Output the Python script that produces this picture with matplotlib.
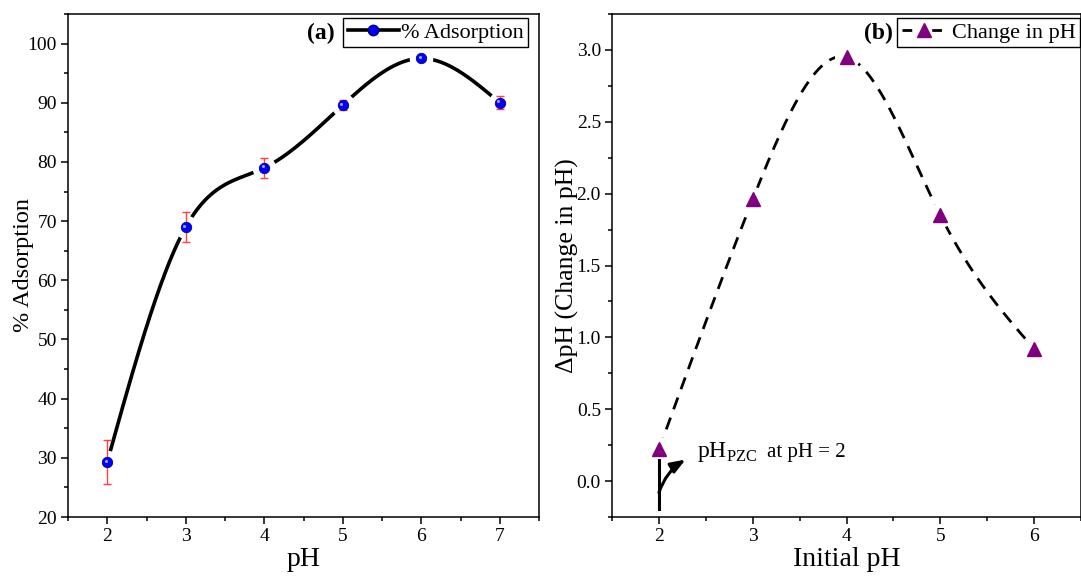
import numpy as np
import matplotlib
matplotlib.use('agg')
from matplotlib import pyplot as plt
from matplotlib.lines import Line2D
from matplotlib.ticker import MultipleLocator
from matplotlib.transforms import offset_copy

# panel (a): % adsorption vs pH
ph_a = [2, 3, 4, 5, 6, 7]
adsorption = [29.3, 69.0, 79.0, 89.6, 97.5, 90.0]
adsorption_err = [3.7, 2.6, 1.7, 0.8, 0.4, 1.1]

# panel (b): change in pH vs initial pH
ph_b = [2, 3, 4, 5, 6]
delta_ph = [0.22, 1.96, 2.95, 1.85, 0.92]

plt.rcParams['font.family'] = ['Liberation Serif', 'DejaVu Serif']
plt.rcParams['mathtext.fontset'] = 'custom'
plt.rcParams['mathtext.rm'] = 'Liberation Serif'
plt.rcParams['axes.linewidth'] = 1.1


def natural_spline(x, y, n=400):
    # smooth connecting curve through the data points
    x = np.asarray(x, float)
    y = np.asarray(y, float)
    k = len(x)
    h = np.diff(x)
    A = np.zeros((k, k))
    r = np.zeros(k)
    A[0, 0] = A[-1, -1] = 1
    for i in range(1, k - 1):
        A[i, i - 1] = h[i - 1]
        A[i, i] = 2 * (h[i - 1] + h[i])
        A[i, i + 1] = h[i]
        r[i] = 6 * ((y[i + 1] - y[i]) / h[i] - (y[i] - y[i - 1]) / h[i - 1])
    M = np.linalg.solve(A, r)
    xs = np.linspace(x[0], x[-1], n)
    idx = np.clip(np.searchsorted(x, xs) - 1, 0, k - 2)
    hh = h[idx]
    a = (x[idx + 1] - xs) / hh
    b = (xs - x[idx]) / hh
    ys = a * y[idx] + b * y[idx + 1] + ((a**3 - a) * M[idx] + (b**3 - b) * M[idx + 1]) * hh**2 / 6
    return xs, ys


def style_axes(ax):
    ax.tick_params(which='both', direction='out', width=1.1, labelsize=14, pad=3)
    ax.tick_params(which='major', length=5)
    ax.tick_params(which='minor', length=3)
    ax.xaxis.set_major_locator(MultipleLocator(1))
    ax.xaxis.set_minor_locator(MultipleLocator(0.5))


fig = plt.figure(figsize=(10.81, 5.77), dpi=100)
W, H = 1081.0, 577.0

# ---------------- panel (a) ----------------
ax1 = fig.add_axes([68 / W, 60 / H, 471 / W, 503 / H])
xs, ys = natural_spline(ph_a, adsorption)
ax1.plot(xs, ys, color='k', lw=2.6, zorder=2)
# white halo to leave a gap round each marker
ax1.plot(ph_a, adsorption, 'o', color='white', ms=17, mec='none', zorder=3)
ax1.errorbar(ph_a, adsorption, yerr=adsorption_err, fmt='none',
             ecolor='#ff4040', elinewidth=1.0, capsize=3, capthick=1.0, zorder=4)
ax1.plot(ph_a, adsorption, 'o', mfc='#0000ff', mec='#00008b', mew=0.6, ms=7.5, zorder=5)
hl = offset_copy(ax1.transData, fig=fig, x=-1.0, y=1.0, units='points')
ax1.plot(ph_a, adsorption, 'o', color='#9fa8ff', mec='none', ms=2.2, transform=hl, zorder=6)

ax1.set_xlim(1.5, 7.5)
ax1.set_ylim(20, 105)
style_axes(ax1)
ax1.yaxis.set_major_locator(MultipleLocator(10))
ax1.yaxis.set_minor_locator(MultipleLocator(5))
ax1.set_xlabel('pH', fontsize=20, labelpad=1)
ax1.set_ylabel('% Adsorption', fontsize=17.5, labelpad=-5)

proxy_a = Line2D([], [], color='k', lw=2.6, marker='o', mfc='#0000ff',
                 mec='#00008b', ms=7.5)
leg = ax1.legend(handles=[proxy_a], labels=['% Adsorption'], loc='upper right',
                 bbox_to_anchor=(0.977, 0.992), borderaxespad=0, fontsize=16,
                 handlelength=2.3, handletextpad=0.1, borderpad=0.2,
                 fancybox=False, framealpha=1, edgecolor='k')
leg.get_frame().set_linewidth(1.0)
ax1.text(0.567, 0.962, '(a)', transform=ax1.transAxes, ha='right', va='center',
         fontsize=17, fontweight='bold')

# ---------------- panel (b) ----------------
ax2 = fig.add_axes([612 / W, 60 / H, 469 / W, 503 / H])
xs, ys = natural_spline(ph_b, delta_ph)
ax2.plot(xs, ys, color='k', lw=2.0, dashes=(4.5, 3.2), zorder=2)
ax2.plot(ph_b, delta_ph, 'o', color='white', ms=18, mec='none', zorder=3)
ax2.plot(ph_b, delta_ph, '^', color='#800080', ms=10, mec='#800080', zorder=5)

ax2.plot([2, 2], [-0.195, 0.15], color='k', lw=2.2, zorder=6)
ax2.annotate('', xy=(2.285, 0.15), xytext=(2.0, -0.08),
             arrowprops=dict(arrowstyle='-|>,head_length=0.8,head_width=0.3',
                             connectionstyle='arc3,rad=-0.18',
                             lw=2.2, color='k', mutation_scale=11,
                             shrinkA=0, shrinkB=0), zorder=6)
ax2.text(2.41, 0.17, r'pH$_{\mathrm{PZC}}$', fontsize=17, va='baseline', ha='left')
ax2.text(3.15, 0.17, 'at pH = 2', fontsize=15, va='baseline', ha='left')

ax2.set_xlim(1.5, 6.5)
ax2.set_ylim(-0.25, 3.25)
style_axes(ax2)
ax2.yaxis.set_major_locator(MultipleLocator(0.5))
ax2.yaxis.set_minor_locator(MultipleLocator(0.25))
ax2.set_xlabel('Initial pH', fontsize=20, labelpad=1)
ax2.set_ylabel('ΔpH (Change in pH)', fontsize=18.5, labelpad=-1.5)

proxy_b = Line2D([], [], color='k', lw=2.0, dashes=(3.5, 7.2), marker='^',
                 mfc='#800080', mec='#800080', ms=10)
leg = ax2.legend(handles=[proxy_b], labels=['Change in pH'], loc='upper right',
                 bbox_to_anchor=(0.998, 0.992), borderaxespad=0, fontsize=16,
                 handlelength=2.0, handletextpad=0.25, borderpad=0.2,
                 fancybox=False, framealpha=1, edgecolor='k')
leg.get_frame().set_linewidth(1.0)
ax2.text(0.598, 0.962, '(b)', transform=ax2.transAxes, ha='right', va='center',
         fontsize=17, fontweight='bold')

plt.savefig('out.png', dpi=100)
plt.close()
